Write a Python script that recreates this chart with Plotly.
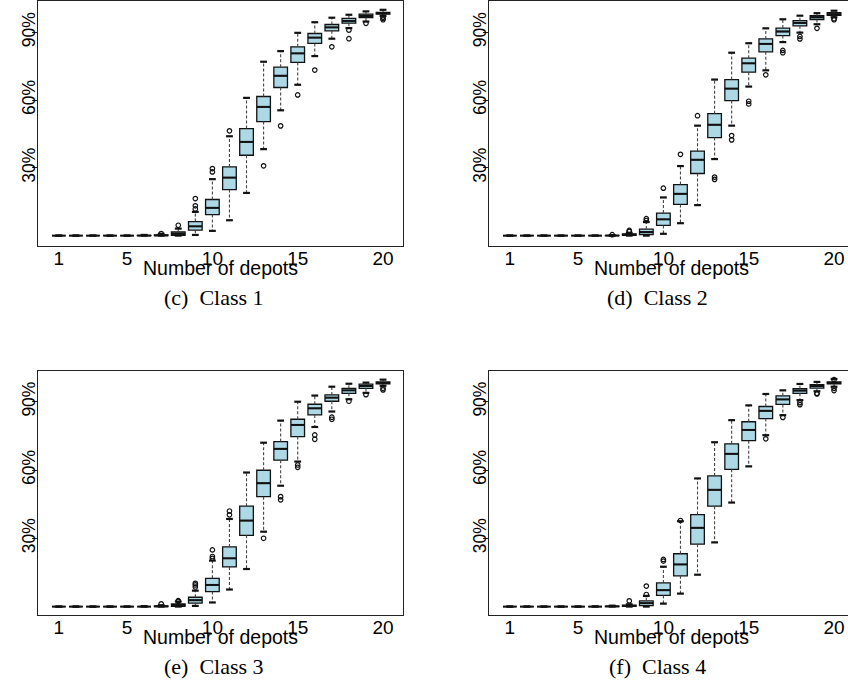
import plotly.graph_objects as go

depots = list(range(1, 21))
x_tickvals = [1, 5, 10, 15, 20]
x_ticktext = ["1", "5", "10", "15", "20"]
y_tickvals = [30, 60, 90]
y_ticktext = ["30%", "60%", "90%"]
x_title = "Number of depots"
captions = ["(c)\u00a0\u00a0Class 1", "(d)\u00a0\u00a0Class 2", "(e)\u00a0\u00a0Class 3", "(f)\u00a0\u00a0Class 4"]

# Class 1
c1_lower = [0, 0, 0, 0, 0, 0, 0, 0, 0.3, 2.1, 6.8, 18.9, 38.3, 55.5, 66.8, 79.5, 87.2, 91.9, 94.8, 97.3]
c1_q1 = [0, 0, 0, 0, 0, 0, 0, 0.1, 2.4, 9.3, 20.4, 35.6, 50.5, 65.6, 76.7, 85.1, 90.7, 94.1, 96.6, 98.1]
c1_med = [0, 0, 0, 0, 0, 0, 0.1, 0.8, 4.1, 12.3, 25.7, 41.5, 57.0, 70.8, 80.7, 87.7, 92.2, 95.1, 97.3, 98.5]
c1_q3 = [0, 0, 0, 0, 0, 0.1, 0.3, 1.6, 6.2, 16.0, 30.4, 47.4, 61.6, 74.6, 83.6, 89.5, 93.5, 96.2, 98.1, 98.8]
c1_upper = [0, 0, 0, 0, 0, 0.3, 0.8, 3.1, 10.5, 25.0, 44.0, 61.0, 77.0, 81.7, 89.8, 94.5, 96.5, 97.8, 99.3, 100]
c1_out_x = [7, 8, 9, 9, 9, 10, 10, 11, 13, 14, 15, 16, 17, 18, 18, 19, 20, 20, 20]
c1_out_y = [0.9, 4.6, 11.8, 13.2, 16.4, 28.2, 29.7, 46.4, 30.9, 48.6, 62.3, 73.3, 83.6, 91.0, 87.2, 94.0, 96.8, 96.2, 95.6]

# Class 2
c2_lower = [0, 0, 0, 0, 0, 0, 0, 0, 0, 0.8, 5.5, 13.5, 33.9, 48.7, 66.0, 73.2, 85.7, 89.9, 93.6, 96.7]
c2_q1 = [0, 0, 0, 0, 0, 0, 0, 0.1, 0.5, 4.5, 13.8, 27.5, 43.4, 59.8, 72.4, 81.4, 88.6, 92.9, 95.7, 97.5]
c2_med = [0, 0, 0, 0, 0, 0, 0, 0.4, 1.6, 7.2, 18.5, 33.6, 49.1, 65.1, 76.3, 84.9, 90.4, 94.2, 96.7, 98.0]
c2_q3 = [0, 0, 0, 0, 0, 0, 0.1, 0.8, 2.9, 10.0, 22.6, 37.4, 54.0, 69.1, 78.6, 87.1, 91.9, 95.2, 97.4, 98.7]
c2_upper = [0, 0, 0, 0, 0, 0, 0.2, 1.2, 6.0, 16.9, 30.8, 48.7, 69.1, 81.0, 85.2, 91.8, 95.8, 97.4, 98.5, 99.6]
c2_out_x = [7, 8, 8, 9, 9, 10, 11, 12, 13, 13, 14, 14, 15, 15, 16, 17, 17, 18, 18, 19, 20, 20]
c2_out_y = [0.4, 2.3, 1.9, 7.5, 6.7, 21.0, 36.0, 53.1, 25.9, 24.9, 44.3, 42.4, 59.5, 58.3, 71.2, 82.0, 81.0, 88.2, 87.1, 91.8, 96.0, 95.6]

# Class 3
c3_lower = [0, 0, 0, 0, 0, 0, 0, 0, 0.3, 1.8, 7.5, 16.5, 32.9, 53.1, 63.7, 78.9, 85.7, 91.1, 93.9, 97.0]
c3_q1 = [0, 0, 0, 0, 0, 0, 0, 0.1, 1.5, 6.6, 17.4, 31.3, 48.3, 64.3, 74.7, 84.2, 90.2, 93.7, 95.9, 97.8]
c3_med = [0, 0, 0, 0, 0, 0, 0.1, 0.6, 2.8, 9.5, 21.2, 37.8, 54.2, 69.3, 79.8, 87.1, 91.8, 95.0, 96.9, 98.2]
c3_q3 = [0, 0, 0, 0, 0, 0, 0.3, 1.2, 4.1, 12.4, 26.2, 44.1, 59.9, 72.5, 82.3, 88.9, 93.0, 95.9, 97.7, 98.7]
c3_upper = [0, 0, 0, 0, 0, 0.2, 0.6, 2.2, 7.0, 20.2, 38.5, 58.9, 72.0, 81.7, 90.0, 92.7, 96.6, 97.9, 98.4, 99.7]
c3_out_x = [7, 8, 8, 9, 9, 9, 10, 10, 10, 11, 11, 13, 14, 14, 15, 15, 16, 16, 17, 17, 18, 19, 20, 20]
c3_out_y = [1.2, 2.6, 2.3, 8.6, 9.5, 10.2, 21.2, 22.0, 24.9, 40.3, 42.0, 30.0, 48.3, 46.9, 62.2, 61.2, 75.4, 73.5, 83.2, 82.3, 90.2, 93.1, 95.9, 95.2]

# Class 4
c4_lower = [0, 0, 0, 0, 0, 0, 0, 0, 0, 1.3, 5.7, 14.0, 28.2, 45.7, 61.6, 75.3, 84.1, 90.7, 94.6, 96.6]
c4_q1 = [0, 0, 0, 0, 0, 0, 0, 0.1, 0.4, 4.9, 13.5, 27.4, 44.1, 60.3, 72.9, 82.6, 88.8, 93.7, 96.0, 97.8]
c4_med = [0, 0, 0, 0, 0, 0, 0.1, 0.3, 1.5, 7.2, 18.5, 34.6, 51.3, 67.1, 77.6, 86.0, 91.0, 94.9, 96.9, 98.2]
c4_q3 = [0, 0, 0, 0, 0, 0, 0.2, 0.6, 2.5, 10.4, 23.2, 40.4, 57.4, 71.5, 81.2, 87.9, 92.6, 95.7, 97.5, 98.7]
c4_upper = [0, 0, 0, 0, 0, 0.1, 0.4, 1.0, 4.7, 17.5, 37.5, 56.3, 72.2, 81.9, 88.4, 93.4, 95.0, 97.8, 98.7, 100]
c4_out_x = [8, 9, 9, 10, 10, 11, 16, 17, 18, 18, 19, 19, 20, 20, 20]
c4_out_y = [2.5, 5.3, 9.0, 20.7, 20.0, 37.8, 73.7, 83.1, 89.6, 88.7, 93.7, 93.4, 95.9, 94.9, 99.7]

classes = [
    (c1_lower, c1_q1, c1_med, c1_q3, c1_upper, c1_out_x, c1_out_y),
    (c2_lower, c2_q1, c2_med, c2_q3, c2_upper, c2_out_x, c2_out_y),
    (c3_lower, c3_q1, c3_med, c3_q3, c3_upper, c3_out_x, c3_out_y),
    (c4_lower, c4_q1, c4_med, c4_q3, c4_upper, c4_out_x, c4_out_y),
]

W, H = 848, 684
BOXW = 0.8
CAPW = 0.4
FILL = "#ADD8E6"
INK = "#111111"

fig = go.Figure()

for i, (lo, q1, med, q3, up, ox, oy) in enumerate(classes):
    sfx = "" if i == 0 else str(i + 1)
    xa, ya = "x" + sfx, "y" + sfx
    fig.add_trace(go.Box(
        x=depots, q1=q1, median=med, q3=q3, lowerfence=q1, upperfence=q3,
        width=BOXW, whiskerwidth=0, fillcolor=FILL,
        line=dict(color=INK, width=1.3), boxpoints=False,
        xaxis=xa, yaxis=ya, showlegend=False, hoverinfo="skip",
    ))
    wx, wy = [], []
    for d, a, b, c, e in zip(depots, lo, q1, q3, up):
        wx += [d, d, None, d, d, None]
        wy += [c, e, None, b, a, None]
    fig.add_trace(go.Scatter(
        x=wx, y=wy, mode="lines", line=dict(color="#444444", width=1.1, dash="3px,2px"),
        xaxis=xa, yaxis=ya, showlegend=False, hoverinfo="skip",
    ))
    cx, cy = [], []
    for d, a, e in zip(depots, lo, up):
        cx += [d - CAPW / 2, d + CAPW / 2, None, d - CAPW / 2, d + CAPW / 2, None]
        cy += [e, e, None, a, a, None]
    fig.add_trace(go.Scatter(
        x=cx, y=cy, mode="lines", line=dict(color=INK, width=2.2),
        xaxis=xa, yaxis=ya, showlegend=False, hoverinfo="skip",
    ))
    mx, my = [], []
    for d, m in zip(depots, med):
        mx += [d - BOXW / 2, d + BOXW / 2, None]
        my += [m, m, None]
    fig.add_trace(go.Scatter(
        x=mx, y=my, mode="lines", line=dict(color=INK, width=2),
        xaxis=xa, yaxis=ya, showlegend=False, hoverinfo="skip",
    ))
    fig.add_trace(go.Scatter(
        x=ox, y=oy, mode="markers",
        marker=dict(symbol="circle-open", size=4.5, color=INK, line=dict(width=1.2)),
        xaxis=xa, yaxis=ya, showlegend=False, hoverinfo="skip",
    ))

# panel geometry (pixels)
left_x = (38, 403)
right_x = (489, W)
top_y = (1, 246)
bot_y = (371, 615)
px_per_unit = 365 / 21.39
xr_left = [-0.22, 21.17]
xr_right = [-0.22, -0.22 + (right_x[1] - right_x[0]) / px_per_unit]
yr_top = [-4.6, 103.9]
yr_bot = [-3.7, 103.5]

def xdom(p):
    return [p[0] / W, p[1] / W]

def ydom(p):
    return [1 - p[1] / H, 1 - p[0] / H]

xtickfont = dict(family="Liberation Sans, Arial, sans-serif", size=19, color="black")
ytickfont = dict(family="Liberation Sans, Arial, sans-serif", size=17.5, color="black")
panels = [
    (left_x, top_y, xr_left, yr_top, True),
    (right_x, top_y, xr_right, yr_top, False),
    (left_x, bot_y, xr_left, yr_bot, True),
    (right_x, bot_y, xr_right, yr_bot, False),
]
layout = {}
for i, (px, py, xr, yr, mir) in enumerate(panels):
    sfx = "" if i == 0 else str(i + 1)
    layout["xaxis" + sfx] = dict(
        domain=xdom(px), range=xr, anchor="y" + sfx, showgrid=False, zeroline=False,
        showline=True, linecolor="#222222", linewidth=1, mirror=True,
        tickmode="array", tickvals=x_tickvals, ticktext=x_ticktext,
        ticks="", tickfont=xtickfont, ticklabelstandoff=-5, automargin=False,
    )
    layout["yaxis" + sfx] = dict(
        domain=ydom(py), range=yr, anchor="x" + sfx, showgrid=False, zeroline=False,
        showline=True, linecolor="#222222", linewidth=1, mirror=mir,
        tickmode="array", tickvals=y_tickvals, ticktext=y_ticktext,
        ticks="outside", ticklen=5, tickcolor="#222222", tickwidth=1,
        tickangle=-90, tickfont=ytickfont, ticklabelstandoff=-10, automargin=False,
    )

annotations = []
title_y = [268, 268, 637, 637]
cap_y = [298, 298, 666, 666]
cap_x = [214, 657, 214, 657]
for i, (px, py, xr, yr, mir) in enumerate(panels):
    cxp = (px[0] + px[0] + 365) / 2
    annotations.append(dict(
        text=x_title, x=cxp / W, y=1 - title_y[i] / H, xref="paper", yref="paper",
        xanchor="center", yanchor="middle", showarrow=False,
        font=dict(family="Liberation Sans, Arial, sans-serif", size=19.5, color="black"),
    ))
    annotations.append(dict(
        text=captions[i], x=cap_x[i] / W, y=1 - cap_y[i] / H, xref="paper", yref="paper",
        xanchor="center", yanchor="middle", showarrow=False,
        font=dict(family="Liberation Serif, Times New Roman, serif", size=22, color="black"),
    ))

fig.update_layout(
    width=W, height=H, margin=dict(l=0, r=0, t=0, b=0, autoexpand=False),
    paper_bgcolor="white", plot_bgcolor="white",
    annotations=annotations, **layout,
)

fig.write_html(
    "out.html",
    config={"displayModeBar": False},
    post_script="document.body.style.margin='0px';document.body.style.overflow='hidden';",
)
